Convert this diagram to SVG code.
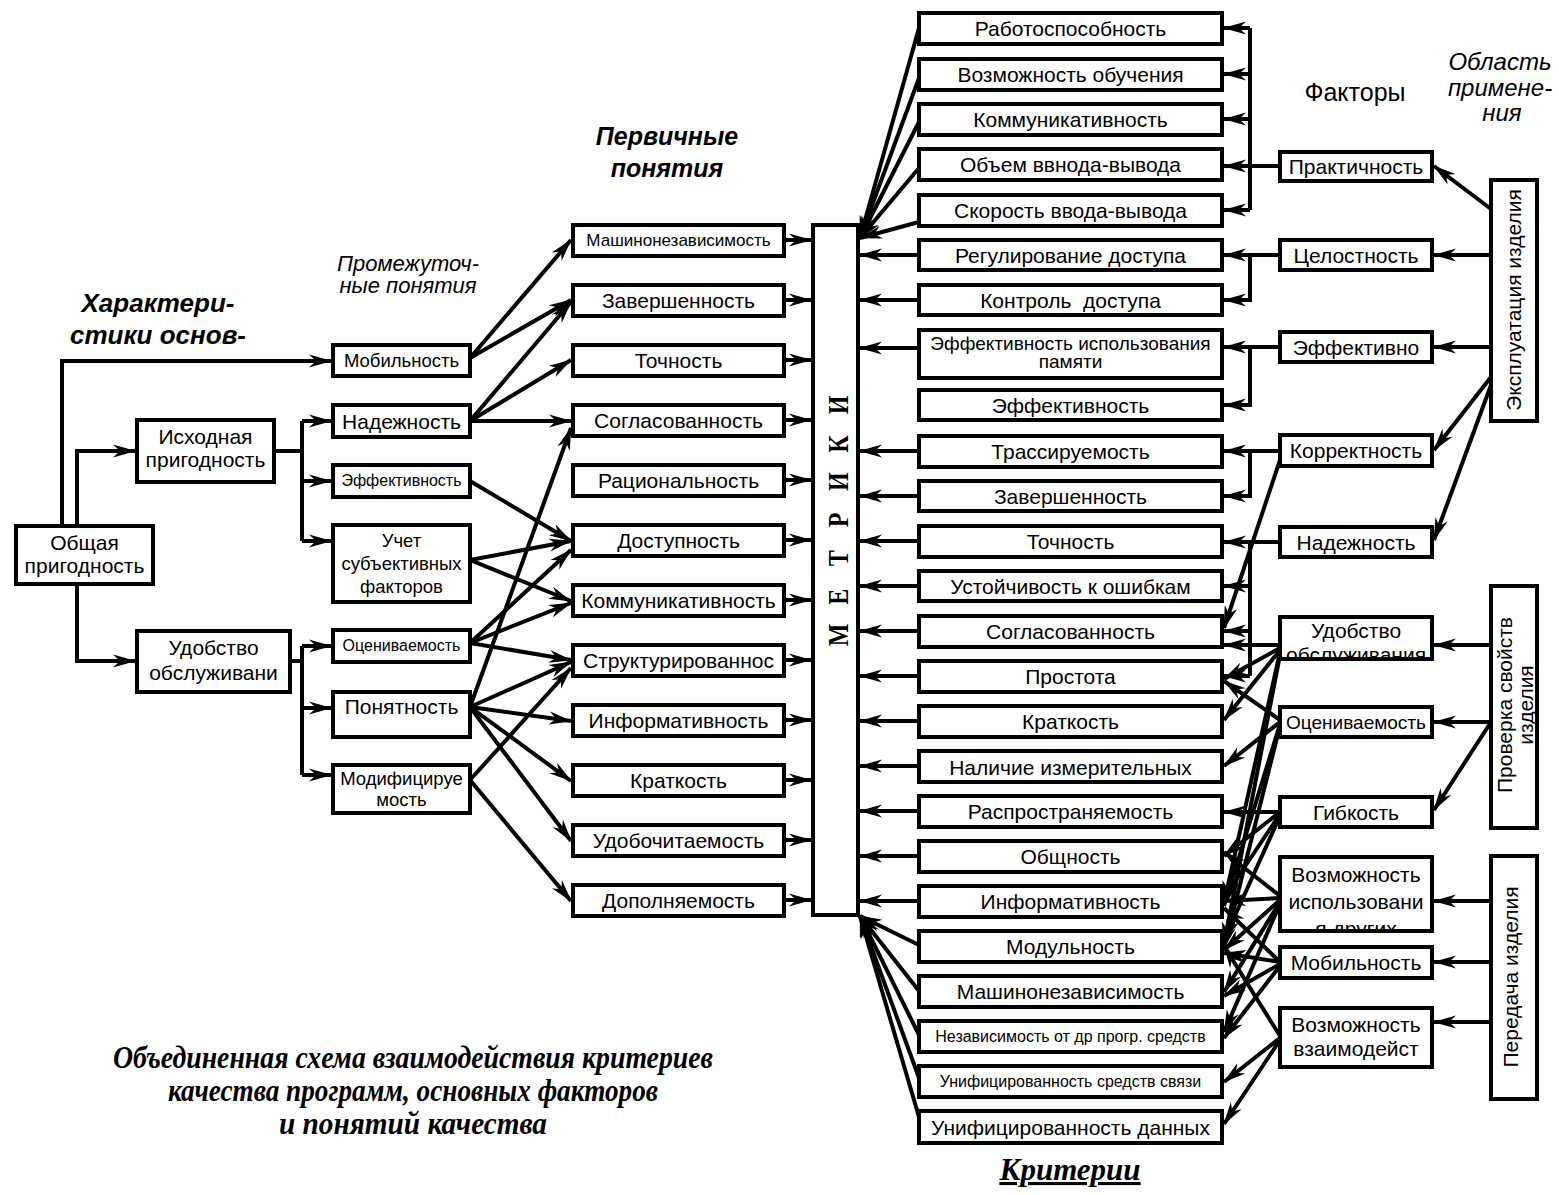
<svg xmlns="http://www.w3.org/2000/svg" width="1559" height="1195" viewBox="0 0 1559 1195">
<defs>
<style>
.b{fill:#fff;stroke:#000;stroke-width:4}
.t{font-family:"Liberation Sans",Arial,sans-serif;font-size:21px;text-anchor:middle;fill:#000}
.s19{font-size:19px}.s18{font-size:18.5px}.s17{font-size:17px}.s16{font-size:16px}
.p{stroke:#000;stroke-width:4;fill:none}
.c{stroke:#000;stroke-width:4;fill:none;marker-end:url(#ah)}
.hd{font-family:"Liberation Sans",Arial,sans-serif;text-anchor:middle;fill:#000}
.cap{font-family:"Liberation Serif","Times New Roman",serif;font-weight:bold;font-style:italic;text-anchor:middle;fill:#000}
</style>
<marker id="ah" viewBox="-24 -8 26 16" refX="0" refY="0" markerWidth="26" markerHeight="16" markerUnits="userSpaceOnUse" orient="auto" overflow="visible">
<path d="M1,0 L-22,-6.5 L-15,0 L-22,6.5 Z" fill="#000"/>
</marker>
<clipPath id="clipF6"><rect x="1282" y="619" width="148" height="38"/></clipPath>
<clipPath id="clipF9"><rect x="1282" y="859" width="148" height="70"/></clipPath>
</defs>
<rect width="1559" height="1195" fill="#fff"/>

<!-- headings -->
<g id="headings">
<text class="hd" x="158" y="312" font-size="26" font-weight="bold" font-style="italic">Характери-</text>
<text class="hd" x="158" y="344" font-size="26" font-weight="bold" font-style="italic">стики основ-</text>
<text class="hd" x="408" y="271" font-size="22" font-style="italic">Промежуточ-</text>
<text class="hd" x="408" y="293" font-size="22" font-style="italic">ные понятия</text>
<text class="hd" x="667" y="145" font-size="25" font-weight="bold" font-style="italic">Первичные</text>
<text class="hd" x="667" y="177" font-size="25" font-weight="bold" font-style="italic">понятия</text>
<text class="hd" x="1355" y="101" font-size="25">Факторы</text>
<text class="hd" x="1500" y="70" font-size="24" font-style="italic">Область</text>
<text class="hd" x="1500" y="96" font-size="24" font-style="italic">примене-</text>
<text class="hd" x="1502" y="121" font-size="24" font-style="italic">ния</text>
<text class="cap" x="413" y="1068" font-size="31" textLength="600" lengthAdjust="spacingAndGlyphs">Объединенная схема взаимодействия критериев</text>
<text class="cap" x="413" y="1101" font-size="31" textLength="490" lengthAdjust="spacingAndGlyphs">качества программ, основных факторов</text>
<text class="cap" x="413" y="1134" font-size="31" textLength="268" lengthAdjust="spacingAndGlyphs">и понятий качества</text>
<text class="cap" x="1070" y="1180" font-size="31" text-decoration="underline">Критерии</text>
</g>

<!-- connectors -->
<g id="connectors">
<!-- general fitness tree -->
<path class="c" d="M62,526 V361 H331"/>
<path class="c" d="M77,526 V451 H135"/>
<path class="c" d="M77,584 V661 H135"/>
<path class="p" d="M274,451 H302 M302,421 V541"/>
<path class="c" d="M302,421 H331"/>
<path class="c" d="M302,481 H331"/>
<path class="c" d="M302,541 H331"/>
<path class="p" d="M290,661 H302 M302,646 V775"/>
<path class="c" d="M302,646 H331"/>
<path class="c" d="M302,708 H331"/>
<path class="c" d="M302,775 H331"/>
<!-- intermediate to primary -->
<path class="c" d="M470,358 L571,240"/>
<path class="c" d="M470,358 L571,300"/>
<path class="c" d="M470,421 L571,302"/>
<path class="c" d="M470,421 L571,360"/>
<path class="c" d="M470,421 L571,421"/>
<path class="c" d="M470,481 L571,541"/>
<path class="c" d="M470,560 L571,541"/>
<path class="c" d="M470,560 L571,601"/>
<path class="c" d="M470,643 L571,550"/>
<path class="c" d="M470,643 L571,603"/>
<path class="c" d="M470,643 L571,660"/>
<path class="c" d="M470,707 L571,428"/>
<path class="c" d="M470,707 L571,662"/>
<path class="c" d="M470,707 L571,721"/>
<path class="c" d="M470,707 L571,781"/>
<path class="c" d="M470,707 L571,841"/>
<path class="c" d="M470,780 L571,668"/>
<path class="c" d="M470,780 L571,901"/>
<!-- primary to metrics -->
<path class="c" d="M786,240 H811"/>
<path class="c" d="M786,300 H811"/>
<path class="c" d="M786,360 H811"/>
<path class="c" d="M786,420 H811"/>
<path class="c" d="M786,480 H811"/>
<path class="c" d="M786,540 H811"/>
<path class="c" d="M786,600 H811"/>
<path class="c" d="M786,660 H811"/>
<path class="c" d="M786,720 H811"/>
<path class="c" d="M786,780 H811"/>
<path class="c" d="M786,840 H811"/>
<path class="c" d="M786,900 H811"/>
<!-- criteria to metrics -->
<path class="c" d="M919,28 L860,238"/>
<path class="c" d="M919,78 L860,238"/>
<path class="c" d="M919,122 L860,238"/>
<path class="c" d="M919,168 L860,238"/>
<path class="c" d="M919,222 L860,238"/>
<path class="c" d="M917,255 H860"/>
<path class="c" d="M917,300 H860"/>
<path class="c" d="M917,348 H860"/>
<path class="c" d="M917,451 H860"/>
<path class="c" d="M917,496 H860"/>
<path class="c" d="M917,541 H860"/>
<path class="c" d="M917,586 H860"/>
<path class="c" d="M917,631 H860"/>
<path class="c" d="M917,676 H860"/>
<path class="c" d="M917,721 H860"/>
<path class="c" d="M917,766 H860"/>
<path class="c" d="M917,811 H860"/>
<path class="c" d="M917,856 H860"/>
<path class="c" d="M917,901 H860"/>
<path class="c" d="M919,945 L860,916"/>
<path class="c" d="M919,991 L860,916"/>
<path class="c" d="M919,1035 L860,916"/>
<path class="c" d="M919,1078 L860,916"/>
<path class="c" d="M919,1117 L860,916"/>
<!-- factors to criteria: usability -->
<path class="p" d="M1250,28 V210"/>
<path class="c" d="M1250,28 H1224"/>
<path class="c" d="M1250,74 H1224"/>
<path class="c" d="M1250,119 H1224"/>
<path class="c" d="M1280,166 H1224"/>
<path class="c" d="M1250,210 H1224"/>
<!-- integrity -->
<path class="c" d="M1280,255 H1224"/>
<path class="c" d="M1250,255 V300 H1224"/>
<!-- efficiency -->
<path class="c" d="M1280,347 H1224"/>
<path class="c" d="M1250,347 V405 H1224"/>
<!-- correctness -->
<path class="c" d="M1280,451 H1224"/>
<path class="c" d="M1250,451 V496 H1224"/>
<path class="c" d="M1280,460 L1224,628"/>
<!-- reliability -->
<path class="c" d="M1280,542 H1224"/>
<path class="p" d="M1250,542 V676"/>
<path class="c" d="M1250,586 H1224"/>
<path class="c" d="M1250,631 H1224"/>
<path class="c" d="M1250,676 H1224"/>
<!-- maintainability -->
<path class="c" d="M1280,645 H1224"/>
<path class="c" d="M1280,648 L1224,679"/>
<path class="c" d="M1280,650 L1224,720"/>
<path class="c" d="M1280,652 L1224,903"/>
<path class="c" d="M1280,655 L1224,944"/>
<!-- testability -->
<path class="c" d="M1280,720 L1224,681"/>
<path class="c" d="M1280,722 L1224,766"/>
<path class="c" d="M1280,724 L1224,906"/>
<path class="c" d="M1280,726 L1224,948"/>
<!-- flexibility -->
<path class="c" d="M1280,812 H1224"/>
<path class="c" d="M1280,812 L1224,856"/>
<path class="c" d="M1280,814 L1224,898"/>
<path class="c" d="M1280,816 L1224,940"/>
<!-- reusability -->
<path class="c" d="M1280,896 L1224,852"/>
<path class="c" d="M1280,898 L1224,901"/>
<path class="c" d="M1280,900 L1224,950"/>
<path class="c" d="M1280,902 L1224,992"/>
<path class="c" d="M1280,904 L1224,1032"/>
<!-- portability -->
<path class="c" d="M1280,962 L1224,908"/>
<path class="c" d="M1280,962 L1224,953"/>
<path class="c" d="M1280,964 L1224,996"/>
<path class="c" d="M1280,966 L1224,1038"/>
<!-- interoperability -->
<path class="c" d="M1280,1036 L1224,946"/>
<path class="c" d="M1280,1038 L1224,1082"/>
<path class="c" d="M1280,1040 L1224,1124"/>
<!-- application areas to factors -->
<path class="c" d="M1491,209 L1434,166"/>
<path class="c" d="M1491,255 H1434"/>
<path class="c" d="M1491,347 H1434"/>
<path class="c" d="M1491,377 L1434,450"/>
<path class="c" d="M1491,385 L1434,540"/>
<path class="c" d="M1491,645 H1434"/>
<path class="c" d="M1491,722 H1434"/>
<path class="c" d="M1491,722 L1434,810"/>
<path class="c" d="M1491,901 H1434"/>
<path class="c" d="M1491,962 H1434"/>
<path class="c" d="M1491,1022 H1434"/>
</g>

<!-- basic characteristics -->
<g id="n-obshaya"><rect class="b" x="16" y="526" width="137" height="58"/><text class="t" x="84.5" y="550">Общая</text><text class="t" x="84.5" y="573">пригодность</text></g>
<g id="n-ishodnaya"><rect class="b" x="137" y="420" width="137" height="62"/><text class="t" x="205.5" y="444">Исходная</text><text class="t" x="205.5" y="467">пригодность</text></g>
<g id="n-udobstvo"><rect class="b" x="137" y="631" width="153" height="61"/><text class="t" x="213.5" y="655">Удобство</text><text class="t" x="213.5" y="680">обслуживани</text></g>

<!-- intermediate concepts -->
<g id="i-mobilnost"><rect class="b" x="333" y="345" width="137" height="31"/><text class="t s18" x="401.5" y="367">Мобильность</text></g>
<g id="i-nadezhnost"><rect class="b" x="333" y="405" width="137" height="32"/><text class="t" x="401.5" y="429">Надежность</text></g>
<g id="i-effekt"><rect class="b" x="333" y="465" width="137" height="32"/><text class="t s16" x="401.5" y="486">Эффективность</text></g>
<g id="i-uchet"><rect class="b" x="333" y="525" width="137" height="77"/><text class="t s18" x="401.5" y="547">Учет</text><text class="t s18" x="401.5" y="570">субъективных</text><text class="t s18" x="401.5" y="593">факторов</text></g>
<g id="i-ocen"><rect class="b" x="333" y="630" width="137" height="32"/><text class="t s16" x="401.5" y="651">Оцениваемость</text></g>
<g id="i-ponyat"><rect class="b" x="333" y="692" width="137" height="45"/><text class="t" x="401.5" y="714">Понятность</text></g>
<g id="i-modif"><rect class="b" x="333" y="765" width="137" height="48"/><text class="t s18" x="401.5" y="785">Модифицируе</text><text class="t s18" x="401.5" y="806">мость</text></g>

<!-- primary concepts -->
<g id="p-mashnez"><rect class="b" x="573" y="225" width="211" height="31"/><text class="t s17" x="678.5" y="246">Машинонезависимость</text></g>
<g id="p-zaversh"><rect class="b" x="573" y="285" width="211" height="31"/><text class="t" x="678.5" y="308">Завершенность</text></g>
<g id="p-tochn"><rect class="b" x="573" y="345" width="211" height="31"/><text class="t" x="678.5" y="368">Точность</text></g>
<g id="p-soglas"><rect class="b" x="573" y="405" width="211" height="31"/><text class="t" x="678.5" y="428">Согласованность</text></g>
<g id="p-racion"><rect class="b" x="573" y="465" width="211" height="31"/><text class="t" x="678.5" y="488">Рациональность</text></g>
<g id="p-dostup"><rect class="b" x="573" y="525" width="211" height="31"/><text class="t" x="678.5" y="548">Доступность</text></g>
<g id="p-kommun"><rect class="b" x="573" y="585" width="211" height="31"/><text class="t" x="678.5" y="608">Коммуникативность</text></g>
<g id="p-strukt"><rect class="b" x="573" y="645" width="211" height="31"/><text class="t" x="678.5" y="668">Структурированнос</text></g>
<g id="p-inform"><rect class="b" x="573" y="705" width="211" height="31"/><text class="t" x="678.5" y="728">Информативность</text></g>
<g id="p-kratk"><rect class="b" x="573" y="765" width="211" height="31"/><text class="t" x="678.5" y="788">Краткость</text></g>
<g id="p-udobochit"><rect class="b" x="573" y="825" width="211" height="31"/><text class="t" x="678.5" y="848">Удобочитаемость</text></g>
<g id="p-dopoln"><rect class="b" x="573" y="885" width="211" height="31"/><text class="t" x="678.5" y="908">Дополняемость</text></g>

<!-- metrics: bold serif letters set along the column, read bottom to top -->
<g id="metriki"><rect class="b" x="813" y="225" width="45" height="690"/>
<text transform="translate(848,0) rotate(-90) scale(0.8,1)" x="-807.9 -755.9 -707.9 -659.2 -613.8 -565.8 -517.9" y="0" font-family="'Liberation Serif','Times New Roman',serif" font-weight="bold" font-size="30" fill="#000">МЕТРИКИ</text></g>

<!-- criteria -->
<g id="c00"><rect class="b" x="919" y="13" width="303" height="31"/><text class="t" x="1070.5" y="36">Работоспособность</text></g>
<g id="c01"><rect class="b" x="919" y="59" width="303" height="31"/><text class="t" x="1070.5" y="82">Возможность обучения</text></g>
<g id="c02"><rect class="b" x="919" y="104" width="303" height="31"/><text class="t" x="1070.5" y="127">Коммуникативность</text></g>
<g id="c03"><rect class="b" x="919" y="149" width="303" height="31"/><text class="t" x="1070.5" y="172">Объем ввнода-вывода</text></g>
<g id="c04"><rect class="b" x="919" y="195" width="303" height="31"/><text class="t" x="1070.5" y="218">Скорость ввода-вывода</text></g>
<g id="c05"><rect class="b" x="919" y="240" width="303" height="30"/><text class="t" x="1070.5" y="263">Регулирование доступа</text></g>
<g id="c06"><rect class="b" x="919" y="285" width="303" height="30"/><text class="t" x="1070.5" y="308" style="white-space:pre">Контроль  доступа</text></g>
<g id="c07"><rect class="b" x="919" y="330" width="303" height="48"/><text class="t s19" x="1070.5" y="350">Эффективность использования</text><text class="t s19" x="1070.5" y="368">памяти</text></g>
<g id="c08"><rect class="b" x="919" y="390" width="303" height="30"/><text class="t" x="1070.5" y="413">Эффективность</text></g>
<g id="c09"><rect class="b" x="919" y="436" width="303" height="31"/><text class="t" x="1070.5" y="459">Трассируемость</text></g>
<g id="c10"><rect class="b" x="919" y="481" width="303" height="30"/><text class="t" x="1070.5" y="504">Завершенность</text></g>
<g id="c11"><rect class="b" x="919" y="526" width="303" height="31"/><text class="t" x="1070.5" y="549">Точность</text></g>
<g id="c12"><rect class="b" x="919" y="571" width="303" height="30"/><text class="t" x="1070.5" y="594">Устойчивость к ошибкам</text></g>
<g id="c13"><rect class="b" x="919" y="616" width="303" height="31"/><text class="t" x="1070.5" y="639">Согласованность</text></g>
<g id="c14"><rect class="b" x="919" y="661" width="303" height="31"/><text class="t" x="1070.5" y="684">Простота</text></g>
<g id="c15"><rect class="b" x="919" y="706" width="303" height="31"/><text class="t" x="1070.5" y="729">Краткость</text></g>
<g id="c16"><rect class="b" x="919" y="751" width="303" height="31"/><text class="t" x="1070.5" y="775">Наличие измерительных</text></g>
<g id="c17"><rect class="b" x="919" y="796" width="303" height="31"/><text class="t" x="1070.5" y="819">Распространяемость</text></g>
<g id="c18"><rect class="b" x="919" y="841" width="303" height="31"/><text class="t" x="1070.5" y="864">Общность</text></g>
<g id="c19"><rect class="b" x="919" y="886" width="303" height="31"/><text class="t" x="1070.5" y="909">Информативность</text></g>
<g id="c20"><rect class="b" x="919" y="931" width="303" height="31"/><text class="t" x="1070.5" y="954">Модульность</text></g>
<g id="c21"><rect class="b" x="919" y="976" width="303" height="31"/><text class="t" x="1070.5" y="999">Машинонезависимость</text></g>
<g id="c22"><rect class="b" x="919" y="1021" width="303" height="31"/><text class="t s16" x="1070.5" y="1042">Независимость от др прогр. средств</text></g>
<g id="c23"><rect class="b" x="919" y="1066" width="303" height="31"/><text class="t s16" x="1070.5" y="1087">Унифицированность средств связи</text></g>
<g id="c24"><rect class="b" x="919" y="1111" width="303" height="32"/><text class="t" x="1070.5" y="1135">Унифицированность данных</text></g>

<!-- factors -->
<g id="f-prakt"><rect class="b" x="1280" y="152" width="152" height="29"/><text class="t" x="1356" y="174">Практичность</text></g>
<g id="f-celost"><rect class="b" x="1280" y="240" width="152" height="30"/><text class="t" x="1356" y="263">Целостность</text></g>
<g id="f-effekt"><rect class="b" x="1280" y="332" width="152" height="30"/><text class="t" x="1356" y="355">Эффективно</text></g>
<g id="f-korrekt"><rect class="b" x="1280" y="435" width="152" height="31"/><text class="t" x="1356" y="458">Корректность</text></g>
<g id="f-nadezh"><rect class="b" x="1280" y="527" width="152" height="30"/><text class="t" x="1356" y="550">Надежность</text></g>
<g id="f-udobstvo"><rect class="b" x="1280" y="617" width="152" height="42"/><g clip-path="url(#clipF6)"><text class="t" x="1356" y="638">Удобство</text><text class="t" x="1356" y="662">обслуживания</text></g></g>
<g id="f-ocen"><rect class="b" x="1280" y="707" width="152" height="30"/><text class="t s19" x="1356" y="729">Оцениваемость</text></g>
<g id="f-gibk"><rect class="b" x="1280" y="797" width="152" height="30"/><text class="t" x="1356" y="820">Гибкость</text></g>
<g id="f-vozm-isp"><rect class="b" x="1280" y="857" width="152" height="74"/><g clip-path="url(#clipF9)"><text class="t" x="1356" y="882">Возможность</text><text class="t" x="1356" y="909">использовани</text><text class="t" x="1356" y="936">я других</text></g></g>
<g id="f-mobil"><rect class="b" x="1280" y="947" width="152" height="31"/><text class="t" x="1356" y="970">Мобильность</text></g>
<g id="f-vzaim"><rect class="b" x="1280" y="1008" width="152" height="59"/><text class="t" x="1356" y="1032">Возможность</text><text class="t" x="1356" y="1056">взаимодейст</text></g>

<!-- application areas -->
<g id="a-ekspl"><rect class="b" x="1491" y="180" width="46" height="241"/><text class="t" transform="translate(1521,300) rotate(-90)">Эксплуатация изделия</text></g>
<g id="a-proverka"><rect class="b" x="1491" y="586" width="46" height="242"/><text class="t" transform="translate(1512,705) rotate(-90)">Проверка свойств</text><text class="t" transform="translate(1533,705) rotate(-90)">изделия</text></g>
<g id="a-peredacha"><rect class="b" x="1491" y="856" width="46" height="243"/><text class="t" transform="translate(1518,977) rotate(-90)">Передача изделия</text></g>
</svg>
